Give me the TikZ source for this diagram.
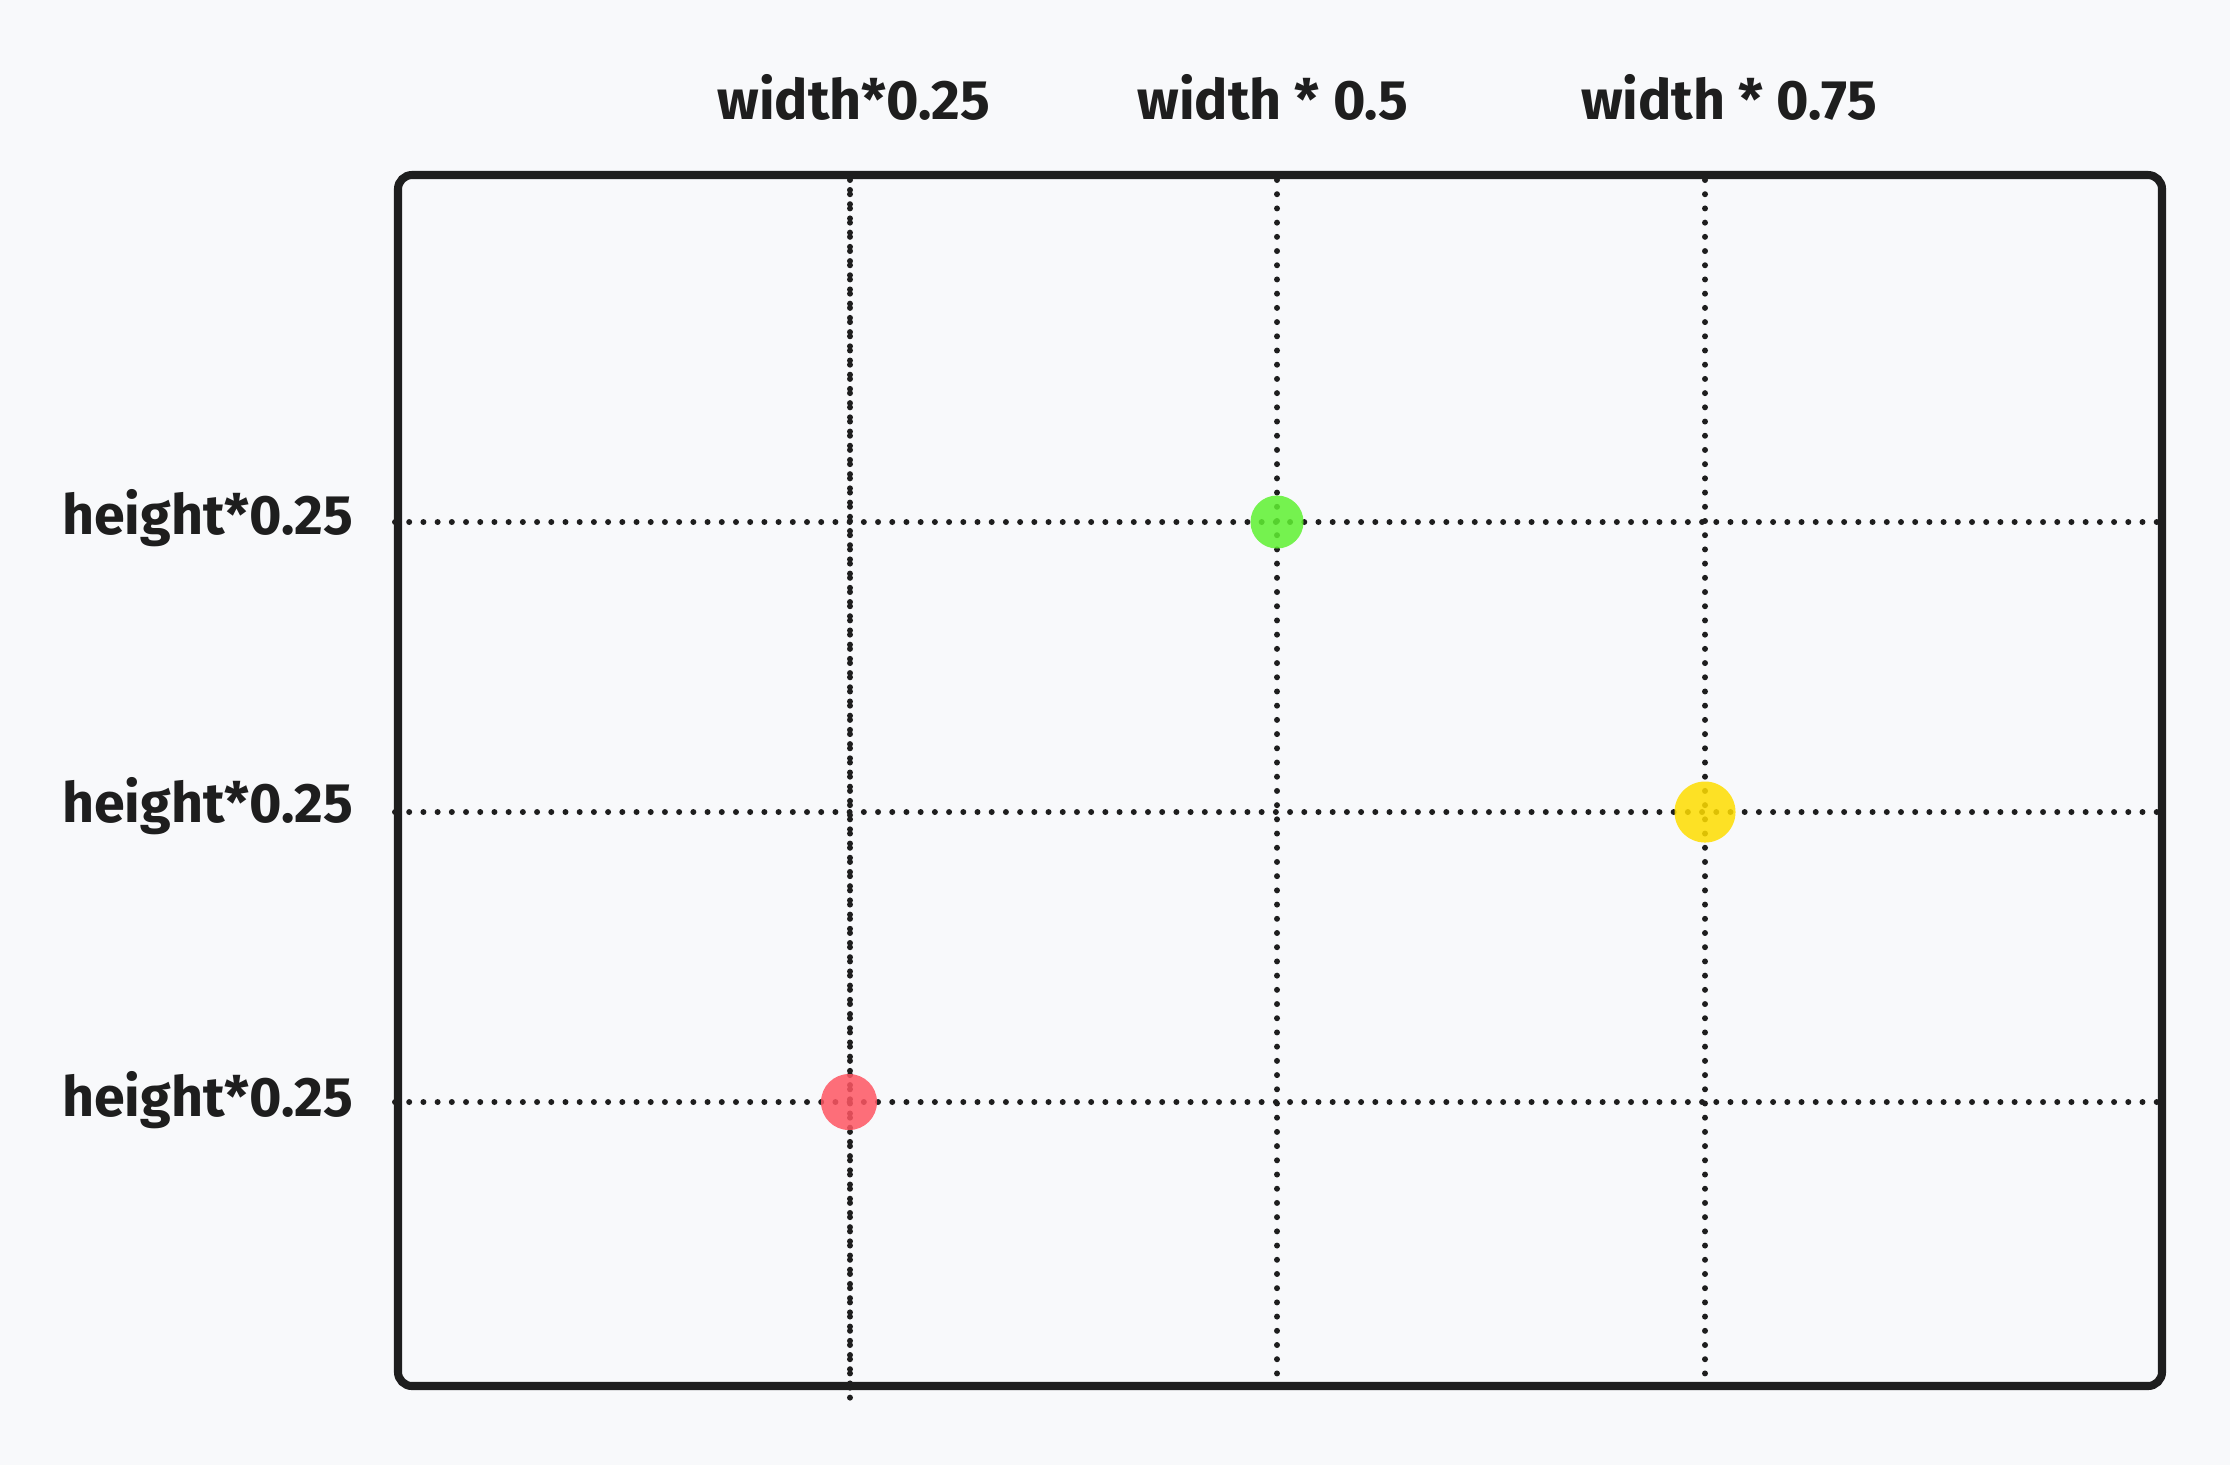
\documentclass[tikz,border=0pt]{standalone}
\usepackage{fontspec}
\setmainfont{Fira Sans}
\definecolor{bgc}{RGB}{248,249,251}
\definecolor{ink}{RGB}{30,30,30}
\definecolor{gdot}{RGB}{95,241,49}
\definecolor{ydot}{RGB}{255,221,0}
\definecolor{rdot}{RGB}{255,86,99}
\begin{document}
\begin{tikzpicture}[x=0.01cm,y=-0.01cm,
  lbl/.style={font=\bfseries\fontsize{15.8}{18}\selectfont, text=ink, inner sep=0pt},
  frame/.style={draw=ink, line width=2.3pt, rounded corners=4pt},
  guide/.style={draw=ink, line width=1.7pt, line cap=round, dash pattern=on 0pt off 4.04pt},
  spot/.style={circle, inner sep=0pt, fill opacity=0.85}]
\fill[bgc] (0,0) rectangle (2230,1465);
\useasboundingbox (0,0) rectangle (2230,1465);
% guide end points
\coordinate (v1t) at (850,180); \coordinate (v1b) at (850,1400);
\coordinate (v2t) at (1277,180); \coordinate (v2b) at (1277,1378);
\coordinate (v3t) at (1705,180); \coordinate (v3b) at (1705,1382);
\coordinate (h1l) at (395,522); \coordinate (h1r) at (2157,522);
\coordinate (h2l) at (395,812); \coordinate (h2r) at (2168,812);
\coordinate (h3l) at (395,1102); \coordinate (h3r) at (2162,1102);
% guides
\draw[guide] (v1t) -- (v1b);
\draw[guide, dash phase=1.2pt] (v1t) -- (v1b);
\draw[guide] (v2t) -- (v2b);
\draw[guide] (v3t) -- (v3b);
\draw[guide] (h1l) -- (h1r);
\draw[guide] (h2l) -- (h2r);
\draw[guide] (h3l) -- (h3r);
% frame
\draw[frame] (398,175) rectangle (2162,1386);
% spots
\node[spot, fill=gdot, minimum size=53*0.2845pt] (g) at (1277,522) {};
\node[spot, fill=ydot, minimum size=61*0.2845pt] (y) at (1705,812) {};
\node[spot, fill=rdot, minimum size=56*0.2845pt] (r) at (849,1102) {};
% labels
\node[lbl] (w1) at (854,97) {width*0.25};
\node[lbl] (w2) at (1273,97) {width * 0.5};
\node[lbl] (w3) at (1729,97) {width * 0.75};
\node[lbl, anchor=east] (hl1) at (354,518) {height*0.25};
\node[lbl, anchor=east] (hl2) at (354,806) {height*0.25};
\node[lbl, anchor=east] (hl3) at (354,1100) {height*0.25};
\end{tikzpicture}
\end{document}
